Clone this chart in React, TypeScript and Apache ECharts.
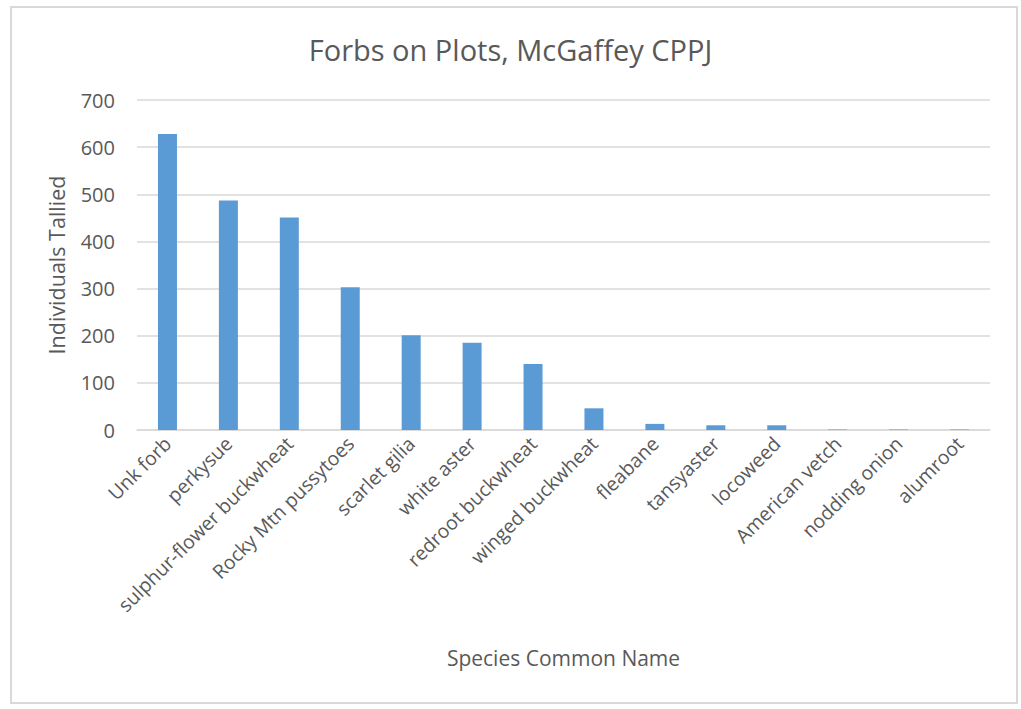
import React, { useEffect, useRef } from "react";
import * as echarts from "echarts";

const categories = [
  "Unk forb",
  "perkysue",
  "sulphur-flower buckwheat",
  "Rocky Mtn pussytoes",
  "scarlet gilia",
  "white aster",
  "redroot buckwheat",
  "winged buckwheat",
  "fleabane",
  "tansyaster",
  "locoweed",
  "American vetch",
  "nodding onion",
  "alumroot",
];
const tallies = [628, 487, 451, 303, 201, 185, 140, 46, 13, 10, 10, 1, 1, 1];
const titleText = "Forbs on Plots, McGaffey CPPJ";
const xName = "Species Common Name";
const yName = "Individuals Tallied";

export default function App() {
  const ref = useRef<HTMLDivElement>(null);
  useEffect(() => {
    if (!ref.current) return;
    const chart = echarts.init(ref.current, null, { renderer: "svg" });
    const font = "'Open Sans', Lato, sans-serif";
    chart.setOption({
      animation: false,
      backgroundColor: "#ffffff",
      textStyle: { fontFamily: font },
      title: {
        text: titleText,
        left: "center",
        top: 30,
        textStyle: { fontFamily: font, fontSize: 29, fontWeight: "normal", color: "#595959" },
      },
      graphic: [
        {
          type: "rect",
          shape: { x: 11, y: 7, width: 1006, height: 696 },
          style: { fill: "none", stroke: "#d9d9d9", lineWidth: 2 },
          silent: true,
        },
      ],
      grid: { left: 137, right: 31, top: 100, bottom: 279, containLabel: false },
      xAxis: {
        type: "category",
        data: categories,
        name: xName,
        nameLocation: "middle",
        nameGap: 217,
        nameTextStyle: { fontFamily: font, fontSize: 21, color: "#595959" },
        axisLine: { lineStyle: { color: "#d9d9d9", width: 1.5 } },
        axisTick: { show: false },
        axisLabel: {
          interval: 0,
          rotate: 45,
          margin: 10,
          fontFamily: font,
          fontSize: 19.5,
          color: "#595959",
        },
      },
      yAxis: {
        type: "value",
        min: 0,
        max: 700,
        interval: 100,
        name: yName,
        nameLocation: "middle",
        nameGap: 70,
        nameTextStyle: { fontFamily: font, fontSize: 21.5, color: "#595959" },
        axisLine: { show: false },
        axisTick: { show: false },
        axisLabel: { margin: 22, fontFamily: font, fontSize: 20, color: "#595959" },
        splitLine: { lineStyle: { color: "#d9d9d9", width: 1.5 } },
      },
      series: [
        {
          type: "bar",
          data: tallies,
          barWidth: 19,
          itemStyle: { color: "#5b9bd5" },
        },
      ],
    });
    return () => chart.dispose();
  }, []);
  return (
    <div
      ref={ref}
      style={{ position: "fixed", left: 0, top: 0, width: 1021, height: 709 }}
    />
  );
}
